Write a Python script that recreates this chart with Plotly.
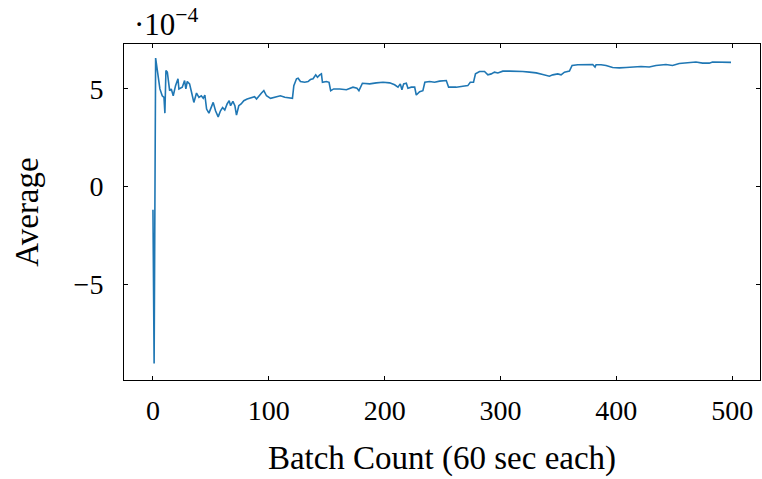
import numpy as np
import plotly.graph_objects as go

# Running average per batch (values in units of 1e-4)
batch = [0, 1, 2.3, 3.7, 6, 8, 9.5, 10.3, 11.2, 12.4, 14.4, 15.8, 17.5, 19.5, 21.6, 22.4,
         25.3, 27.3, 28.4, 29.6, 31.6, 33.3, 35.3, 37.6, 39.7, 41.7, 43.4, 44.8, 46.3,
         48.3, 50.3, 52, 54, 56.3, 58.3, 60.1, 62, 64, 65.8, 67, 69, 70.7, 72.1, 74.1,
         76.1, 78.4, 81.3, 84.2, 87.7, 89.4, 91.4, 93.7, 95.7, 98, 101.5, 104.3, 107.2,
         110, 113.8, 118.7, 120.4, 121.6, 123.9, 125.3, 127.3, 131, 133.9, 135.9, 138.2,
         140.5, 142, 144, 145.4, 146.3, 149.7, 152, 153.4, 156, 161.2, 167, 172.7, 176.1,
         177.8, 180.8, 187.1, 192.8, 198.6, 204.3, 208.6, 211.5, 213.5, 214.9, 216.4,
         218.7, 220.1, 223, 225.9, 227.3, 230.2, 233, 234.7, 238.8, 243.1, 247.4, 251.7,
         253.2, 255.2, 261.8, 267.5, 271.8, 273.9, 276.7, 278.4, 281.9, 286.2, 289.1,
         292, 294.8, 297.7, 302, 307.8, 313.5, 319.2, 325, 330.8, 336.5, 342.2, 345.1,
         349.4, 352.3, 355.2, 359.5, 361.8, 366.7, 371, 376.7, 379.6, 381.6, 382.5,
         386.8, 391.1, 396.8, 402.6, 408.4, 414.1, 421.3, 428.4, 434.2, 442.8, 448.5,
         454.3, 462.9, 468.7, 474.4, 480.2, 483, 488.8, 494.6, 499]
average_e4 = [-1.19, -9.06, 6.58, 5.86, 5.0, 4.65, 4.57, 3.76, 5.94, 5.86, 4.91, 5.0, 4.65,
              5.17, 5.52, 5.0, 5.09, 5.43, 5.0, 5.38, 5.26, 4.83, 4.31, 4.79, 4.57, 4.65,
              4.52, 4.69, 3.97, 3.76, 4.05, 4.31, 3.88, 3.57, 3.88, 4.05, 3.92, 4.23, 4.40,
              4.14, 4.36, 4.14, 3.66, 4.14, 4.23, 4.40, 4.48, 4.54, 4.60, 4.48, 4.65, 4.79,
              4.91, 4.65, 4.52, 4.57, 4.62, 4.65, 4.57, 4.52, 4.52, 5.17, 5.52, 5.55, 5.38,
              5.34, 5.38, 5.48, 5.52, 5.72, 5.60, 5.72, 5.77, 5.34, 5.38, 5.34, 4.91, 5.0,
              5.0, 4.96, 5.09, 5.04, 4.91, 5.29, 5.26, 5.31, 5.34, 5.31, 5.21, 5.09, 5.26,
              4.96, 5.26, 5.29, 5.04, 5.09, 5.09, 4.69, 4.86, 4.91, 5.34, 5.38, 5.34, 5.40,
              5.40, 5.43, 5.09, 5.09, 5.14, 5.17, 5.34, 5.34, 5.77, 5.89, 5.89, 5.72, 5.77,
              5.86, 5.82, 5.91, 5.91, 5.91, 5.89, 5.86, 5.82, 5.74, 5.65, 5.72, 5.77, 5.72,
              5.86, 5.91, 6.20, 6.24, 6.24, 6.24, 6.25, 6.12, 6.24, 6.24, 6.20, 6.10, 6.08,
              6.10, 6.13, 6.15, 6.12, 6.20, 6.25, 6.20, 6.30, 6.36, 6.38, 6.32, 6.32, 6.38,
              6.38, 6.38, 6.36]

y_ticks = [-5, 0, 5]
x_ticks = [0, 100, 200, 300, 400, 500]

scale = 1e-4
values = np.array(average_e4) * scale

font_family = "Liberation Serif"

fig = go.Figure()
fig.add_trace(go.Scatter(x=batch, y=values, mode="lines",
                         line=dict(color="#1f77b4", width=1.6), showlegend=False))

axis_common = dict(showgrid=False, zeroline=False, showline=True, linecolor="black",
                   linewidth=1, mirror="ticks", ticks="inside", ticklen=4,
                   tickcolor="black", tickfont=dict(family=font_family, size=28, color="black"))

fig.update_xaxes(range=[-25, 524], tickvals=x_ticks,
                 ticktext=[str(t) for t in x_ticks],
                 ticklabelstandoff=5,
                 title=dict(text="Batch Count (60 sec each)", standoff=21,
                            font=dict(family=font_family, size=33, color="black")),
                 **axis_common)
fig.update_yaxes(range=[-9.9 * scale, 7.3 * scale],
                 tickvals=[t * scale for t in y_ticks],
                 ticktext=[str(t).replace("-", "\u2212") for t in y_ticks],
                 ticklabelstandoff=14,
                 title=dict(text="Average", standoff=25,
                            font=dict(family=font_family, size=33, color="black")),
                 **axis_common)

fig.add_annotation(text="\u00b710<sup>\u22124</sup>", xref="paper", yref="paper",
                   x=0.0, y=1.0, xanchor="left", yanchor="bottom", xshift=8, yshift=0,
                   showarrow=False, font=dict(family=font_family, size=31, color="black"))

fig.update_layout(width=762, height=479, margin=dict(l=124, r=2, t=44, b=99),
                  plot_bgcolor="white", paper_bgcolor="white")

fig.write_html("out.html")
